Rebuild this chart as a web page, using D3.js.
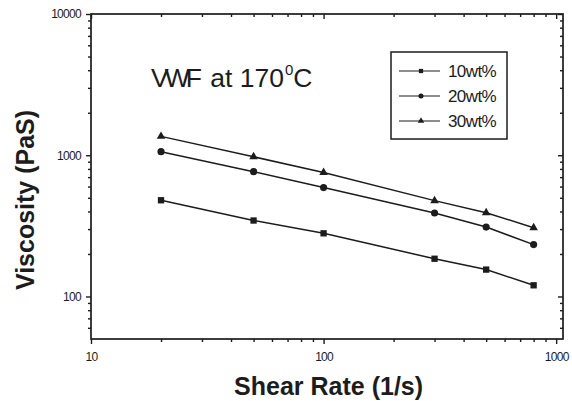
<!DOCTYPE html>
<html>
<head>
<meta charset="utf-8">
<script src="https://cdn.jsdelivr.net/npm/d3@7"></script>
<style>
  body { margin: 0; background: #fff; }
  svg { display: block; font-family: "Liberation Sans", Arial, sans-serif; }
</style>
</head>
<body>
<svg width="572" height="401"></svg>
<script>
var shearRate = [20, 50, 100, 300, 500, 800];
var visc10 = [480, 345, 280, 185, 155, 120];
var visc20 = [1060, 765, 590, 390, 310, 233];
var visc30 = [1360, 975, 755, 477, 392, 307];
var seriesNames = ["10wt%", "20wt%", "30wt%"];
var xMajor = [10, 100, 1000];
var yMajor = [100, 1000, 10000];

var ink = "#1c1c1c";

var svg = d3.select("svg"),
    margin = {top: 14, right: 9, bottom: 62, left: 91},
    width = +svg.attr("width") - margin.left - margin.right,
    height = +svg.attr("height") - margin.top - margin.bottom;

var g = svg.append("g").attr("transform", "translate(" + margin.left + "," + margin.top + ")");

var x = d3.scaleLog().domain([10, 1070]).range([0, width]);
var y = d3.scaleLog().domain([50, 10000]).range([height, 0]);

var xMinor = x.ticks().filter(function(v) { return xMajor.indexOf(v) < 0 && v > 10; });
var yMinor = y.ticks().filter(function(v) { return yMajor.indexOf(v) < 0 && v > 50; });

function styleAxis(sel) {
  sel.select(".domain").remove();
  sel.selectAll("line").attr("stroke", ink).attr("stroke-width", 1.4);
  sel.selectAll("text").attr("fill", ink).attr("font-size", 12).attr("letter-spacing", -0.7)
    .attr("font-family", "'Liberation Sans', Arial, sans-serif");
}

// bottom axis
g.append("g").attr("transform", "translate(0," + height + ")")
  .call(d3.axisBottom(x).tickValues(xMajor).tickSize(5).tickSizeOuter(0).tickPadding(8).tickFormat(d3.format("d")))
  .call(styleAxis);
g.append("g").attr("transform", "translate(0," + height + ")")
  .call(d3.axisBottom(x).tickValues(xMinor).tickSize(3).tickSizeOuter(0).tickFormat(""))
  .call(styleAxis);
// top axis (ticks point down)
g.append("g")
  .call(d3.axisBottom(x).tickValues(xMajor).tickSize(5).tickSizeOuter(0).tickFormat(""))
  .call(styleAxis);
g.append("g")
  .call(d3.axisBottom(x).tickValues(xMinor).tickSize(3).tickSizeOuter(0).tickFormat(""))
  .call(styleAxis);
// left axis
g.append("g")
  .call(d3.axisLeft(y).tickValues(yMajor).tickSize(5).tickSizeOuter(0).tickPadding(5).tickFormat(d3.format("d")))
  .call(styleAxis);
g.append("g")
  .call(d3.axisLeft(y).tickValues(yMinor).tickSize(3).tickSizeOuter(0).tickFormat(""))
  .call(styleAxis);
// right axis (ticks point left)
g.append("g").attr("transform", "translate(" + width + ",0)")
  .call(d3.axisLeft(y).tickValues(yMajor).tickSize(5).tickSizeOuter(0).tickFormat(""))
  .call(styleAxis);
g.append("g").attr("transform", "translate(" + width + ",0)")
  .call(d3.axisLeft(y).tickValues(yMinor).tickSize(3).tickSizeOuter(0).tickFormat(""))
  .call(styleAxis);

// frame
g.append("rect")
  .attr("width", width).attr("height", height)
  .attr("fill", "none").attr("stroke", ink).attr("stroke-width", 1.7);

// series
var series = [
  {name: seriesNames[0], values: visc10, symbol: d3.symbolSquare, size: 40, lsize: 18},
  {name: seriesNames[1], values: visc20, symbol: d3.symbolCircle, size: 40, lsize: 20},
  {name: seriesNames[2], values: visc30, symbol: d3.symbolTriangle, size: 32, lsize: 18}
];

var line = d3.line()
  .x(function(d) { return x(d[0]); })
  .y(function(d) { return y(d[1]); });

series.forEach(function(s) {
  var pts = d3.zip(shearRate, s.values);
  g.append("path")
    .datum(pts)
    .attr("d", line)
    .attr("fill", "none")
    .attr("stroke", ink)
    .attr("stroke-width", 1.5);
  g.selectAll(null)
    .data(pts)
    .enter().append("path")
      .attr("transform", function(d) { return "translate(" + x(d[0]) + "," + y(d[1]) + ")"; })
      .attr("d", d3.symbol().type(s.symbol).size(s.size))
      .attr("fill", ink);
});

// legend
var legend = svg.append("g").attr("transform", "translate(391,52)");
legend.append("rect")
  .attr("width", 116).attr("height", 87)
  .attr("fill", "none").attr("stroke", ink).attr("stroke-width", 1.5);
var rows = legend.selectAll(".row")
  .data(series)
  .enter().append("g")
    .attr("class", "row")
    .attr("transform", function(d, i) { return "translate(0," + (19 + i * 25) + ")"; });
rows.append("line")
  .attr("x1", 8).attr("x2", 49)
  .attr("stroke", ink).attr("stroke-width", 1.1);
rows.append("path")
  .attr("transform", "translate(30,0)")
  .attr("d", function(d) { return d3.symbol().type(d.symbol).size(d.lsize)(); })
  .attr("fill", ink);
rows.append("text")
  .attr("x", 57).attr("y", 6)
  .attr("font-size", 17).attr("letter-spacing", -0.6)
  .attr("fill", ink)
  .text(function(d) { return d.name; });

// annotation
var note = svg.append("text")
  .attr("x", 151).attr("y", 87)
  .attr("font-size", 26.5)
  .attr("fill", ink);
note.append("tspan").attr("letter-spacing", -4).text("VWF");
note.append("tspan").attr("dx", 5).text(" at 170");
note.append("tspan").attr("font-size", 15).attr("dy", -12).attr("dx", 1).text("0");
note.append("tspan").attr("dy", 12).text("C");

// axis titles
svg.append("text")
  .attr("x", margin.left + x(100) + 5).attr("y", 395)
  .attr("text-anchor", "middle")
  .attr("font-size", 25).attr("font-weight", "bold")
  .attr("fill", ink)
  .text("Shear Rate (1/s)");

svg.append("text")
  .attr("transform", "translate(34,200) rotate(-90)")
  .attr("text-anchor", "middle")
  .attr("font-size", 25).attr("font-weight", "bold")
  .attr("fill", ink)
  .text("Viscosity (PaS)");
</script>
</body>
</html>
